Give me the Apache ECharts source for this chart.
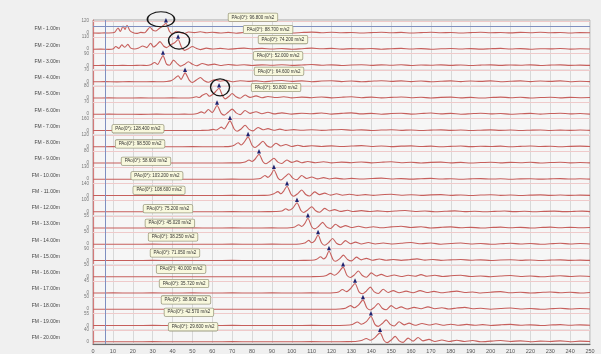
<!DOCTYPE html>
<html><head><meta charset="utf-8">
<script src="https://cdn.jsdelivr.net/npm/echarts@6/dist/echarts.min.js"></script>
<style>html,body{margin:0;padding:0;background:#f0f0f0}#c{width:601px;height:354px}</style>
</head><body><div id="c"></div><script>
// Channel names, top to bottom
const channelNames = ['FM - 1.00m','FM - 2.00m','FM - 3.00m','FM - 4.00m','FM - 5.00m','FM - 6.00m','FM - 7.00m','FM - 8.00m','FM - 9.00m','FM - 10.00m','FM - 11.00m','FM - 12.00m','FM - 13.00m','FM - 14.00m','FM - 15.00m','FM - 16.00m','FM - 17.00m','FM - 18.00m','FM - 19.00m','FM - 20.00m'];

// Time axis (ms): 0..250, tick every 10
const timeMin = 0, timeMax = 250, timeStep = 10;
// Cursor position
const cursorTime = 6;
const cursorLevel = 0.985;

// Acceleration traces [time, m/s2]
const trace1 = [[0,0.5],[3,-0.8],[6,1],[8,0.5],[10,2],[11,8],[12.6,50],[13.8,15],[15.1,70],[16.1,35],[17.1,78],[18.5,25],[20,5],[22,-4],[24,6],[26,2],[27.5,35],[28.7,58],[30,30],[31.5,20],[33,40],[35,70],[36.7,96.8],[38.5,15],[40,-6],[42,18],[44,4],[46,-5],[48,10],[51,4],[54,12],[57,2],[60,8],[64,0],[68,6],[72,-2],[76,5],[80,3],[85,8],[90,2],[95,6],[100,0],[105,5],[110,9],[115,3],[120,7],[125,2],[130,5],[135,0],[140,4],[145,7],[150,2],[155,6],[160,0],[165,4],[170,8],[175,3],[180,5],[185,0],[190,4],[195,7],[200,2],[205,5],[210,1],[215,6],[220,3],[225,7],[230,2],[235,5],[240,0],[245,4],[250,2]];
const trace2 = [[0,0],[4,1],[8,-1],[10,2],[11.5,25],[13,8],[14.5,40],[16,18],[17.5,45],[19,10],[21,2],[23,12],[25,30],[27,15],[29,55],[30.5,20],[32,40],[33.7,70],[35.5,30],[37,15],[39,40],[41,60],[42.8,88.7],[44.5,20],[46,-10],[48,5],[50,25],[52,8],[54,-3],[57,10],[60,2],[64,8],[68,0],[72,6],[76,10],[80,3],[85,8],[90,2],[95,7],[100,0],[105,5],[110,10],[115,4],[120,8],[125,1],[130,6],[135,3],[140,7],[145,0],[150,5],[155,8],[160,2],[165,6],[170,0],[175,4],[180,7],[185,2],[190,6],[195,1],[200,5],[205,8],[210,2],[215,6],[220,0],[225,5],[230,3],[235,7],[240,1],[245,4],[250,2]];
const trace3 = [[0,0],[5,0.8],[10,-0.5],[15,1],[20,0],[24,1.5],[27,0],[29,5],[31,22],[32.5,8],[34,45],[35.2,74.2],[37,10],[38.5,2],[40.5,40],[42.5,12],[44,-5],[46,8],[48,28],[50,10],[52,-2],[55,15],[58,3],[61,10],[64,0],[68,8],[72,2],[76,6],[80,0],[85,5],[90,2],[95,6],[100,1],[105,4],[110,7],[115,2],[120,5],[125,0],[130,4],[135,6],[140,1],[145,5],[150,2],[155,6],[160,0],[165,4],[170,2],[175,5],[180,1],[185,4],[190,0],[195,3],[200,5],[205,1],[210,4],[215,2],[220,5],[225,0],[230,3],[235,5],[240,1],[245,3],[250,1]];
const trace4 = [[0,0],[6,0.5],[12,-0.5],[18,0.8],[24,0],[30,0.6],[34,0],[37,1.5],[39,5],[41,18],[42.8,35],[44.3,14],[46.3,52],[48.5,8],[50,-4],[52,10],[54,25],[56,6],[58,-3],[61,12],[64,3],[67,8],[70,0],[74,6],[78,2],[82,5],[86,0],[90,4],[95,7],[100,2],[105,5],[110,0],[115,4],[120,6],[125,1],[130,4],[135,0],[140,3],[145,6],[150,2],[155,5],[160,1],[165,4],[170,0],[175,3],[180,5],[185,1],[190,4],[195,2],[200,5],[205,0],[210,3],[215,5],[220,1],[225,4],[230,2],[235,5],[240,0],[245,3],[250,1]];
const trace5 = [[0,0],[8,0.6],[16,-0.4],[24,0.8],[32,0],[40,0.7],[46,0],[50,2],[52,8],[53.5,3],[55,18],[57,30],[58.5,12],[60,22],[61.5,40],[63.4,64.6],[65,20],[66.5,-6],[68.5,12],[70,30],[72,8],[74,-2],[76.5,20],[79,4],[82,14],[85,2],[88,10],[92,3],[96,8],[100,1],[105,6],[110,2],[115,7],[120,1],[125,5],[130,8],[135,2],[140,6],[145,1],[150,4],[155,7],[160,2],[165,5],[170,0],[175,4],[180,6],[185,1],[190,4],[195,0],[200,3],[205,6],[210,2],[215,5],[220,0],[225,3],[230,5],[235,1],[240,4],[245,2],[250,3]];
const trace6 = [[0,0],[8,0.5],[16,0],[24,-0.5],[32,0.6],[40,0],[46,0.8],[50,0],[52.5,4],[54.5,14],[56,6],[58,28],[60,10],[62.4,50.8],[64.5,5],[66,-5],[68,12],[70,30],[72,8],[74,-2],[76.5,22],[79,5],[82,15],[85,3],[88,12],[91,2],[95,8],[100,1],[105,6],[110,3],[115,7],[120,1],[125,5],[130,8],[135,2],[140,5],[145,0],[150,4],[155,6],[160,1],[165,4],[170,7],[175,2],[180,5],[185,0],[190,3],[195,6],[200,2],[205,4],[210,0],[215,3],[220,5],[225,1],[230,4],[235,6],[240,2],[245,4],[250,1]];
const trace7 = [[0,0],[8,1],[16,-1],[24,1.5],[32,0],[40,1],[48,-0.5],[54,1],[58,3],[60.5,15],[62,6],[64.5,45],[66,20],[68.9,128.4],[71,20],[72.5,-10],[74.5,20],[76.5,70],[78.5,15],[80.5,-5],[83,40],[85.5,10],[88,25],[91,4],[94,18],[97,2],[101,12],[105,3],[110,10],[115,2],[120,8],[125,14],[130,3],[135,9],[140,1],[145,6],[150,10],[155,2],[160,7],[165,0],[170,5],[175,9],[180,2],[185,6],[190,0],[195,4],[200,8],[205,2],[210,6],[215,0],[220,4],[225,7],[230,1],[235,5],[240,2],[245,6],[250,2]];
const trace8 = [[0,0],[10,0.8],[20,-0.8],[30,1],[40,0],[50,0.8],[60,-0.5],[66,1],[69,4],[71,15],[73,40],[74.5,18],[76,45],[78,98.5],[80,15],[81.5,-8],[83.5,20],[85.5,55],[87.5,10],[89.5,-5],[92,35],[94.5,8],[97,22],[100,3],[103,15],[106,2],[110,10],[115,3],[120,9],[125,2],[130,7],[135,11],[140,3],[145,8],[150,1],[155,6],[160,9],[165,2],[170,6],[175,0],[180,4],[185,7],[190,1],[195,5],[200,2],[205,6],[210,0],[215,4],[220,7],[225,2],[230,5],[235,0],[240,4],[245,6],[250,2]];
const trace9 = [[0,0],[10,0.5],[20,-0.5],[30,0.6],[40,0],[50,0.5],[60,-0.4],[70,0.6],[74,1],[76.5,6],[78.5,20],[80,10],[81.5,25],[83.5,58.6],[85.5,8],[87,-5],[89,12],[91,32],[93,6],[95,-3],[97.5,20],[100,4],[102.5,14],[105,2],[108,10],[112,2],[116,8],[120,1],[125,6],[130,2],[135,7],[140,1],[145,5],[150,8],[155,2],[160,5],[165,0],[170,4],[175,6],[180,1],[185,4],[190,0],[195,3],[200,5],[205,1],[210,4],[215,2],[220,5],[225,0],[230,3],[235,5],[240,1],[245,3],[250,1]];
const trace10 = [[0,0],[10,0.8],[20,-0.6],[30,1],[40,0],[50,0.8],[60,-0.5],[70,1],[78,0],[82,2],[84.5,12],[86.5,40],[88,20],[89.5,50],[91,103.2],[93,15],[94.5,-8],[96.5,25],[98.5,60],[100.5,12],[102.5,-6],[105,40],[107.5,8],[110,25],[113,4],[116,18],[119,3],[122,12],[126,2],[130,9],[135,2],[140,8],[145,12],[150,3],[155,7],[160,1],[165,6],[170,9],[175,2],[180,6],[185,0],[190,4],[195,7],[200,2],[205,5],[210,0],[215,4],[220,6],[225,1],[230,4],[235,7],[240,2],[245,5],[250,1]];
const trace11 = [[0,0],[10,0.8],[20,-0.8],[30,1],[40,0],[50,0.6],[60,-0.6],[70,1],[80,0],[86,1.5],[89,5],[91,20],[93,45],[94.5,20],[96,55],[97.6,108.6],[99.6,15],[101,-8],[103,22],[105,65],[107,12],[109,-6],[111.5,42],[114,10],[116.5,28],[119.5,4],[122.5,20],[125.5,3],[129,14],[133,2],[137,10],[141,2],[145,9],[150,14],[155,3],[160,9],[165,1],[170,7],[175,10],[180,2],[185,6],[190,0],[195,5],[200,8],[205,2],[210,5],[215,0],[220,4],[225,7],[230,2],[235,5],[240,1],[245,4],[250,2]];
const trace12 = [[0,0],[10,0.5],[20,-0.5],[30,0.7],[40,0],[50,0.6],[60,-0.5],[70,0.7],[80,0],[88,0.8],[92,1.5],[95,6],[97,25],[98.5,12],[100.5,30],[102.6,75.2],[104.6,10],[106,-6],[108,15],[110,42],[112,8],[114,-4],[116.5,28],[119,6],[121.5,18],[124.5,3],[128,12],[131,2],[135,9],[139,2],[143,7],[148,1],[152,6],[157,10],[162,2],[167,6],[172,0],[177,4],[182,7],[187,1],[192,4],[197,0],[202,3],[207,6],[212,1],[217,4],[222,0],[227,3],[232,5],[237,1],[242,3],[246,5],[250,1]];
const trace13 = [[0,0],[10,0.3],[20,-0.3],[30,0.4],[40,0],[50,0.4],[60,-0.3],[70,0.4],[80,0],[90,0.5],[96,0],[99,1],[101.5,5],[103.5,15],[105,7],[106.5,20],[108.1,45.02],[110,6],[111.5,-4],[113.5,8],[115.5,26],[117.5,5],[119.5,-2],[122,17],[124.5,3],[127,11],[130,2],[133.5,8],[137,1],[141,6],[145,1],[150,5],[155,8],[160,2],[165,6],[170,0],[175,3],[180,5],[185,1],[190,3],[195,0],[200,2],[205,4],[210,1],[215,3],[220,0],[225,2],[230,4],[235,1],[240,3],[245,1],[250,2]];
const trace14 = [[0,0],[10,0.3],[20,-0.3],[30,0.4],[40,0],[50,0.3],[60,-0.2],[70,0.4],[80,0],[90,0.4],[100,0],[104,1],[106.5,5],[108.5,16],[110,6],[111.5,14],[113.2,38.25],[115,5],[116.5,-4],[118.5,7],[120.5,24],[122.5,4],[124.5,-2],[127,15],[129.5,2],[132,9],[135,1],[138.5,7],[142,1],[146,5],[150,1],[155,4],[160,7],[165,2],[170,5],[175,0],[180,3],[185,5],[190,1],[195,3],[200,0],[205,2],[210,4],[215,1],[220,3],[225,0],[230,2],[235,4],[240,1],[245,3],[250,1]];
const trace15 = [[0,0],[10,0.5],[20,-0.5],[30,0.6],[40,0],[50,0.5],[60,-0.4],[70,0.6],[80,0],[90,0.5],[100,-0.3],[106,0.8],[110,2],[112.5,10],[114.5,28],[116,12],[117.2,25],[118.7,71.05],[120.7,8],[122,-6],[124,12],[126,40],[128,8],[130,-3],[132.5,25],[135,5],[137.5,16],[140.5,2],[144,11],[147.5,2],[151,8],[155,1],[159,6],[163,12],[167,3],[171,8],[175,1],[180,5],[185,8],[190,2],[195,5],[200,0],[205,4],[210,6],[215,1],[220,4],[225,0],[230,3],[235,5],[240,1],[245,3],[250,1]];
const trace16 = [[0,0],[10,0.3],[20,-0.3],[30,0.3],[40,0],[50,0.3],[60,-0.2],[70,0.3],[80,0],[90,0.3],[100,-0.2],[110,0.3],[114,1],[117,4],[119.5,14],[121.5,6],[123.5,18],[125.8,40],[127.8,5],[129.5,-3],[131.5,8],[133.5,24],[135.5,5],[137.5,-2],[140,16],[142.5,3],[145,10],[148,1],[151.5,7],[155,1],[158.5,6],[162,2],[165,9],[168,2],[172,6],[176,1],[180,4],[185,6],[190,1],[195,3],[200,0],[205,3],[210,5],[215,1],[220,3],[225,0],[230,2],[235,4],[240,1],[245,3],[250,1]];
const trace17 = [[0,0],[10,0.3],[20,-0.2],[30,0.3],[40,0],[50,0.3],[60,-0.2],[70,0.3],[80,0],[90,0.3],[100,-0.2],[110,0.3],[118,0],[121,1],[123.5,4],[125.5,13],[127.5,5],[129.5,16],[131.8,35.72],[133.8,4],[135.5,-3],[137.5,7],[139.5,22],[141.5,4],[143.5,-2],[146,14],[148.5,2],[151,9],[154,1],[157.5,7],[161,1],[164.5,9],[168,2],[171.5,6],[175,1],[179,4],[183,7],[187,2],[191,4],[195,0],[200,3],[205,5],[210,1],[215,3],[220,0],[225,2],[230,4],[235,1],[240,3],[245,0],[250,2]];
const trace18 = [[0,0],[10,0.3],[20,-0.3],[30,0.3],[40,0],[50,0.3],[60,-0.2],[70,0.3],[80,0],[90,0.3],[100,-0.2],[110,0.3],[120,0],[124,1],[127,4],[129.5,15],[131.5,6],[133.5,17],[135.8,38.9],[137.8,5],[139.5,-3],[141.5,8],[143.5,24],[145.5,4],[147.5,-2],[150,15],[152.5,2],[155,10],[158,1],[161.5,8],[165,2],[168.5,10],[172,2],[175.5,6],[179,1],[183,5],[187,8],[191,2],[195,4],[200,0],[205,3],[210,5],[215,1],[220,3],[225,0],[230,2],[235,4],[240,1],[245,3],[250,1]];
const trace19 = [[0,0],[10,0.3],[20,-0.3],[30,0.4],[40,0],[50,0.3],[60,-0.3],[70,0.4],[80,0],[90,0.3],[100,-0.2],[110,0.4],[120,0],[127,1],[130.5,5],[133,16],[135,6],[137.5,18],[139.8,42.57],[141.8,5],[143.5,-4],[145.5,9],[147.5,26],[149.5,5],[151.5,-2],[154,17],[156.5,3],[159,11],[162,1],[165.5,9],[169,2],[172.5,8],[176,1],[180,6],[184,1],[188,5],[192,1],[196,4],[200,0],[205,3],[210,5],[215,1],[220,3],[225,0],[230,2],[235,4],[240,1],[245,3],[250,1]];
const trace20 = [[0,0],[10,0.2],[20,-0.2],[30,0.3],[40,0],[50,0.2],[60,-0.2],[70,0.3],[80,0],[90,0.2],[100,-0.2],[110,0.3],[120,0],[128,0.3],[132,1],[135,4],[137.5,11],[139.5,5],[141.5,12],[144.4,29.6],[146.4,4],[148,-3],[150,6],[152,18],[154,3],[156,-2],[158.5,12],[161,2],[163.5,14],[166,3],[169,8],[172,1],[175.5,6],[179,1],[183,5],[187,1],[191,4],[195,0],[200,2],[205,4],[210,1],[215,3],[220,0],[225,2],[230,1],[235,3],[240,0],[245,2],[250,1]];

const traces = [trace1,trace2,trace3,trace4,trace5,trace6,trace7,trace8,trace9,trace10,trace11,trace12,trace13,trace14,trace15,trace16,trace17,trace18,trace19,trace20];

// Channels whose peak is ringed
const ringedChannels = [0, 1, 4];

// ---- layout ----
const plotLeft = 93, plotRight = 11, plotTop = 20, plotBottom = 10;
const firstBaseline = 33, rowPitch = 16.25, rowAbove = 12, rowHeight = 16;
// peak-value tag placement relative to the peak marker (px)
const tagOffsets = [[87,-3],[90,-7],[120,-13],[93,-14],[60,-14],[59,-15],[-92,11],[-108,10],[-113,10],[-117,9],[-128,7],[-129,9],[-138,8],[-145,5],[-154,5],[-162,5],[-171,3],[-177,3],[-182,-1],[-187,-3]];
const ringStyle = { 0: {size:[27,15], offset:[-5,-4]}, 1: {size:[21,17], offset:[1,1]}, 4: {size:[19,17], offset:[1,-1]} };

const FONT = 'Liberation Sans';
const traceColor = '#c65f5c';

function niceTop(p){ const step = p >= 50 ? 10 : 5; return Math.ceil(p*1.2/step)*step; }

const grids = [{ left: plotLeft, right: plotRight, top: plotTop, bottom: plotBottom, show: true, backgroundColor: '#f6f6f6', borderColor: '#a9a9a9', borderWidth: 1 }];
const xAxes = [{
  gridIndex: 0, type: 'value', min: timeMin, max: timeMax, interval: timeStep,
  axisLine: { show: true, lineStyle: { color: '#6a6a6a', width: 1.2 } },
  axisTick: { show: false },
  axisLabel: { fontSize: 5.5, color: '#555', margin: 4, fontFamily: FONT },
  splitLine: { show: true, lineStyle: { color: '#d8d8d8', width: 1 } }
}];
const yAxes = [{
  gridIndex: 0, type: 'value', min: 0, max: 1,
  axisLine: { show: true, lineStyle: { color: '#d27a7a', width: 1.2 } },
  axisTick: { show: false }, axisLabel: { show: false }, splitLine: { show: false }
}];
const series = [{
  type: 'line', xAxisIndex: 0, yAxisIndex: 0, data: [], silent: true,
  markLine: {
    symbol: 'none', silent: true, label: { show: false },
    lineStyle: { color: '#7f8fc0', width: 1, type: 'solid' },
    data: [{ xAxis: cursorTime }, { yAxis: cursorLevel }]
  }
}];

traces.forEach((tr, i) => {
  const peak = Math.max(...tr.map(p => p[1]));
  const top = niceTop(peak);
  const base = firstBaseline + i * rowPitch;
  const gi = i + 1;
  grids.push({ left: plotLeft, right: plotRight, top: base - rowAbove, height: rowHeight });
  xAxes.push({ gridIndex: gi, type: 'value', min: timeMin, max: timeMax, show: false });
  yAxes.push({
    gridIndex: gi, type: 'value', min: -top/3, max: top, interval: top/3,
    name: channelNames[i], nameLocation: 'middle', nameRotate: 0, nameGap: 33,
    nameTextStyle: { fontSize: 5, color: '#444', fontFamily: FONT, align: 'right', verticalAlign: 'middle' },
    axisLine: { show: false }, axisTick: { show: false },
    axisLabel: {
      fontSize: 4.5, color: '#777', margin: 4, fontFamily: FONT,
      formatter: v => (Math.abs(v) < 1e-6 || Math.abs(v - top) < 1e-6 * top) ? String(Math.round(v)) : ''
    },
    splitLine: { show: false }
  });
  const points = [{
    type: 'max', symbol: 'triangle', symbolSize: [4, 4.5], symbolOffset: [0, -3],
    itemStyle: { color: '#1f2370' },
    label: {
      show: true, position: 'inside', offset: tagOffsets[i],
      formatter: p => 'PAo(0°): ' + p.value.toFixed(3) + ' m/s2',
      fontSize: 4.5, color: '#333', fontFamily: FONT,
      backgroundColor: '#f8f8dd', borderColor: '#9c9c80', borderWidth: 0.8, borderRadius: 1,
      padding: [1.5, 3, 1, 3]
    }
  }];
  if (ringedChannels.includes(i)) {
    const r = ringStyle[i];
    points.push({
      type: 'max', symbol: 'circle', symbolSize: r.size, symbolOffset: r.offset,
      itemStyle: { color: 'rgba(0,0,0,0)', borderColor: '#151515', borderWidth: 1.3 },
      label: { show: false }
    });
  }
  series.push({
    type: 'line', xAxisIndex: gi, yAxisIndex: gi, data: tr, showSymbol: false, smooth: 0.25,
    clip: false, silent: true, z: 3,
    lineStyle: { color: traceColor, width: 1.1 },
    // faint row guides: top of the channel band and its lower edge
    markLine: {
      symbol: 'none', silent: true, label: { show: false }, z: 1,
      data: [
        { yAxis: top, lineStyle: { color: '#efcaca', width: 1, type: 'solid' } },
        { yAxis: -top/3, lineStyle: { color: '#e4e4e4', width: 1, type: 'solid' } }
      ]
    },
    markPoint: { silent: true, animation: false, z: 5, data: points }
  });
});

const chart = echarts.init(document.getElementById('c'), null, { renderer: 'canvas' });
chart.setOption({
  animation: false,
  backgroundColor: '#f0f0f0',
  grid: grids, xAxis: xAxes, yAxis: yAxes, series: series
});
</script></body></html>
